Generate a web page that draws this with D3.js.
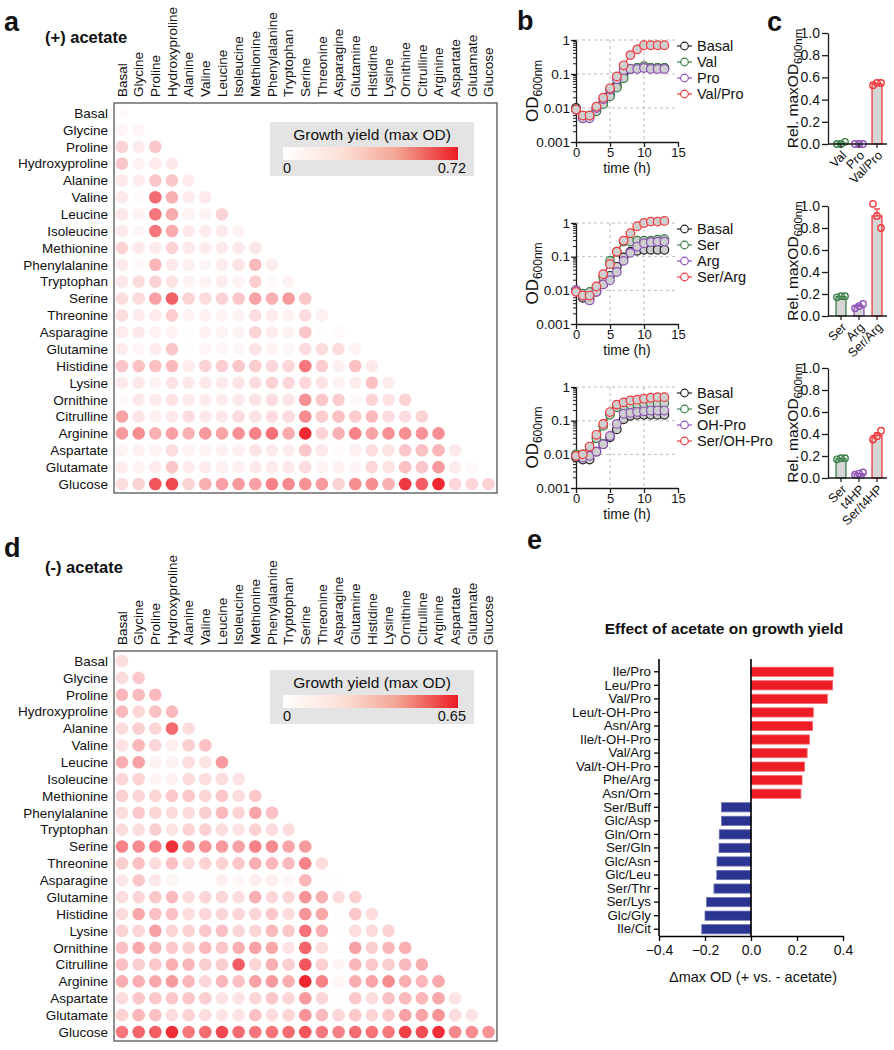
<!DOCTYPE html>
<html><head><meta charset="utf-8">
<script src="https://cdn.jsdelivr.net/npm/d3@7"></script>
<style>
body{margin:0;background:#fff}
svg{display:block}
text{font-family:"Liberation Sans",Arial,Helvetica,sans-serif;fill:#111}
</style>
</head><body>
<svg id="fig" width="894" height="1050"></svg>
<script>
// ---------------- DATA ----------------
const categories = ["Basal","Glycine","Proline","Hydroxyproline","Alanine","Valine","Leucine","Isoleucine","Methionine","Phenylalanine","Tryptophan","Serine","Threonine","Asparagine","Glutamine","Histidine","Lysine","Ornithine","Citrulline","Arginine","Aspartate","Glutamate","Glucose"];

// growth yield (max OD), lower triangle, (+) acetate
const plusAcetate = [
 [0.02],
 [0.03,0.03],
 [0.14,0.06,0.18],
 [0.18,0.04,0.06,0.07],
 [0.07,0.06,0.18,0.18,0.06],
 [0.07,0.02,0.47,0.25,0.06,0.07],
 [0.07,0.04,0.43,0.27,0.04,0.04,0.14],
 [0.07,0.03,0.43,0.27,0.07,0.06,0.07,0.04],
 [0.14,0.07,0.06,0.14,0.07,0.06,0.07,0.07,0.08],
 [0.07,0.02,0.23,0.07,0.05,0.03,0.06,0.09,0.22,0.06],
 [0.07,0.11,0.14,0.09,0.04,0.04,0.06,0.04,0.16,0.02,0.04],
 [0.11,0.11,0.30,0.50,0.14,0.11,0.14,0.18,0.29,0.25,0.32,0.18],
 [0.11,0.06,0.06,0.16,0.04,0.05,0.04,0.04,0.11,0.06,0.04,0.11,0.05],
 [0.06,0.07,0.04,0.04,0.01,0.05,0.04,0.04,0.14,0.06,0.04,0.18,0.01,0.02],
 [0.06,0.03,0.06,0.18,0.01,0.03,0.03,0.03,0.09,0.04,0.03,0.11,0.11,0.11,0.04],
 [0.18,0.20,0.20,0.22,0.06,0.14,0.16,0.18,0.16,0.13,0.13,0.43,0.16,0.05,0.20,0.07],
 [0.07,0.07,0.04,0.09,0.07,0.07,0.07,0.09,0.11,0.14,0.13,0.13,0.09,0.04,0.06,0.20,0.06],
 [0.02,0.07,0.06,0.09,0.06,0.06,0.06,0.07,0.09,0.11,0.09,0.35,0.18,0.16,0.02,0.14,0.09,0.14],
 [0.29,0.09,0.05,0.07,0.11,0.07,0.07,0.11,0.09,0.11,0.11,0.37,0.16,0.20,0.16,0.22,0.11,0.11,0.14],
 [0.32,0.36,0.25,0.30,0.25,0.32,0.29,0.35,0.40,0.45,0.27,0.68,0.14,0.25,0.40,0.29,0.35,0.36,0.35,0.36],
 [0.04,0.05,0.04,0.11,0.04,0.04,0.05,0.05,0.09,0.07,0.06,0.18,0.07,0.02,0.05,0.11,0.09,0.18,0.20,0.23,0.07],
 [0.06,0.04,0.06,0.18,0.06,0.06,0.05,0.05,0.07,0.06,0.07,0.11,0.04,0.05,0.03,0.13,0.09,0.20,0.18,0.32,0.06,0.02],
 [0.11,0.14,0.54,0.58,0.14,0.25,0.30,0.32,0.30,0.40,0.37,0.35,0.32,0.14,0.36,0.36,0.25,0.63,0.52,0.68,0.13,0.13,0.14]
];
const plusMax = 0.72;

// growth yield (max OD), lower triangle, (-) acetate
const minusAcetate = [
 [0.10],
 [0.10,0.16],
 [0.21,0.20,0.20],
 [0.20,0.12,0.18,0.20],
 [0.10,0.14,0.12,0.42,0.10],
 [0.08,0.21,0.12,0.05,0.14,0.18],
 [0.23,0.27,0.04,0.04,0.10,0.08,0.29],
 [0.12,0.13,0.03,0.04,0.10,0.10,0.10,0.08],
 [0.14,0.12,0.12,0.16,0.16,0.12,0.16,0.10,0.16],
 [0.10,0.16,0.12,0.10,0.10,0.14,0.20,0.13,0.26,0.18],
 [0.10,0.10,0.14,0.08,0.13,0.14,0.10,0.08,0.13,0.10,0.10],
 [0.36,0.33,0.36,0.59,0.33,0.31,0.29,0.27,0.36,0.33,0.26,0.29],
 [0.14,0.18,0.10,0.18,0.10,0.13,0.13,0.16,0.23,0.21,0.20,0.36,0.10],
 [0.07,0.16,0.07,0.03,0.01,0.01,0.05,0.03,0.05,0.05,0.03,0.21,0.01,0.01],
 [0.10,0.12,0.16,0.20,0.10,0.12,0.12,0.10,0.23,0.12,0.12,0.31,0.23,0.10,0.14],
 [0.10,0.25,0.18,0.18,0.10,0.12,0.12,0.12,0.12,0.16,0.10,0.31,0.25,0.01,0.16,0.10],
 [0.13,0.12,0.27,0.12,0.13,0.16,0.18,0.12,0.12,0.20,0.16,0.40,0.23,0.01,0.10,0.10,0.13],
 [0.18,0.25,0.21,0.16,0.14,0.21,0.16,0.23,0.27,0.25,0.08,0.44,0.10,0.01,0.27,0.14,0.21,0.23],
 [0.18,0.14,0.16,0.23,0.21,0.14,0.14,0.46,0.12,0.23,0.14,0.49,0.14,0.03,0.21,0.16,0.14,0.20,0.23],
 [0.23,0.23,0.25,0.29,0.21,0.12,0.21,0.18,0.27,0.29,0.23,0.62,0.36,0.03,0.23,0.26,0.33,0.23,0.21,0.25],
 [0.10,0.16,0.16,0.16,0.16,0.14,0.08,0.08,0.12,0.16,0.12,0.29,0.12,0.01,0.16,0.10,0.18,0.20,0.21,0.25,0.08],
 [0.13,0.21,0.18,0.10,0.13,0.10,0.08,0.08,0.18,0.10,0.12,0.31,0.20,0.12,0.16,0.12,0.16,0.27,0.26,0.31,0.10,0.08],
 [0.39,0.44,0.46,0.60,0.39,0.42,0.52,0.42,0.39,0.40,0.42,0.49,0.38,0.36,0.42,0.40,0.39,0.55,0.51,0.60,0.34,0.33,0.31]
];
const minusMax = 0.65;

// panel b: growth curves (OD600nm vs time)
const timeHours = [0,1,2,3,4,5,6,7,8,9,10,11,12,13];
const b1Basal  = [0.010,0.006,0.006,0.009,0.014,0.025,0.045,0.100,0.140,0.150,0.160,0.150,0.150,0.150];
const b1Val    = [0.009,0.005,0.006,0.008,0.013,0.022,0.040,0.075,0.140,0.150,0.170,0.150,0.150,0.150];
const b1Pro    = [0.009,0.005,0.005,0.010,0.018,0.035,0.070,0.130,0.140,0.140,0.150,0.140,0.140,0.140];
const b1ValPro = [0.009,0.006,0.006,0.011,0.020,0.038,0.085,0.180,0.360,0.530,0.700,0.700,0.700,0.700];
const b2Basal  = [0.010,0.006,0.006,0.009,0.015,0.027,0.050,0.095,0.140,0.150,0.160,0.160,0.160,0.160];
const b2Ser    = [0.010,0.008,0.009,0.012,0.025,0.075,0.140,0.280,0.280,0.300,0.300,0.300,0.320,0.330];
const b2Arg    = [0.010,0.007,0.005,0.009,0.015,0.020,0.035,0.075,0.130,0.200,0.250,0.270,0.280,0.280];
const b2SerArg = [0.009,0.007,0.007,0.013,0.030,0.060,0.140,0.300,0.500,0.800,1.000,1.100,1.100,1.150];
const b3Basal  = [0.008,0.007,0.007,0.012,0.020,0.032,0.055,0.110,0.140,0.150,0.150,0.150,0.150,0.150];
const b3Ser    = [0.010,0.010,0.013,0.030,0.070,0.150,0.250,0.280,0.300,0.310,0.320,0.330,0.330,0.330];
const b3OHPro  = [0.009,0.008,0.009,0.012,0.020,0.035,0.080,0.160,0.170,0.180,0.190,0.200,0.200,0.200];
const b3SerOHPro = [0.009,0.010,0.017,0.038,0.080,0.180,0.300,0.350,0.400,0.420,0.450,0.480,0.500,0.500];
const b1Names = ["Basal","Val","Pro","Val/Pro"];
const b2Names = ["Basal","Ser","Arg","Ser/Arg"];
const b3Names = ["Basal","Ser","OH-Pro","Ser/OH-Pro"];
const odTicks = [1,0.1,0.01,0.001];
const timeTicks = [0,5,10,15];

// panel c: relative max OD600nm (replicates)
const c1Labels = ["Val","Pro","Val/Pro"];
const c1Reps = [[0.00,0.00,0.02],[0.00,0.00,0.00],[0.53,0.55,0.55]];
const c2Labels = ["Ser","Arg","Ser/Arg"];
const c2Reps = [[0.17,0.18,0.18],[0.07,0.09,0.11],[1.02,0.91,0.80]];
const c3Labels = ["Ser","t4HP","Ser/t4HP"];
const c3Reps = [[0.17,0.18,0.18],[0.03,0.04,0.05],[0.35,0.38,0.43]];
const relTicks = [0,0.2,0.4,0.6,0.8,1.0];

// panel e: effect of acetate on growth yield
const eLabels = ["Ile/Pro","Leu/Pro","Val/Pro","Leu/t-OH-Pro","Asn/Arg","Ile/t-OH-Pro","Val/Arg","Val/t-OH-Pro","Phe/Arg","Asn/Orn","Ser/Buff","Glc/Asp","Gln/Orn","Ser/Gln","Glc/Asn","Glc/Leu","Ser/Thr","Ser/Lys","Glc/Gly","Ile/Cit"];
const eValues = [0.358,0.355,0.332,0.271,0.268,0.254,0.244,0.233,0.222,0.217,-0.128,-0.128,-0.138,-0.139,-0.148,-0.149,-0.161,-0.193,-0.200,-0.214];
const eTicks = [-0.4,-0.2,0.0,0.2,0.4];

// ---------------- DRAW ----------------
const svg = d3.select("#fig");
const defs = svg.append("defs");
const INK = "#1a1a1a";
const C = {black:"#222222", green:"#3a7f47", purple:"#8e52b8", red:"#f2383c"};

function panelLetter(t, x, y){
  svg.append("text").attr("x",x).attr("y",y).attr("font-size",27).attr("font-weight","bold").text(t);
}

// ---------- heatmaps ----------
function heatmap(data, maxV, dy, gid, heading, headingY){
  const g = svg.append("g");
  const x = d3.scalePoint().domain(categories).range([122, 488.5]);
  const y = d3.scalePoint().domain(categories).range([113+dy, 484+dy]);
  const color = d3.scaleLinear().domain([0, maxV]).range(["#ffffff","#ee1c25"]).clamp(true);

  g.append("text").attr("x",45).attr("y",headingY).attr("font-size",16.5).attr("font-weight","bold").text(heading);

  g.append("rect").attr("x",114).attr("y",103+dy).attr("width",383).attr("height",390)
    .attr("fill","none").attr("stroke","#555").attr("stroke-width",1.3);

  const cells = [];
  data.forEach((row,i)=>row.forEach((v,j)=>cells.push({r:categories[i], c:categories[j], v})));
  g.selectAll("circle.cell").data(cells).join("circle").attr("class","cell")
    .attr("cx",d=>x(d.c)).attr("cy",d=>y(d.r)).attr("r",6.3).attr("fill",d=>color(d.v));

  g.selectAll("text.rl").data(categories).join("text").attr("class","rl")
    .attr("x",108).attr("y",d=>y(d)).attr("dy","0.36em").attr("text-anchor","end")
    .attr("font-size",13.5).text(d=>d);
  g.selectAll("text.cl").data(categories).join("text").attr("class","cl")
    .attr("transform",d=>`translate(${x(d)+4.8},${97+dy}) rotate(-90)`)
    .attr("font-size",13.5).text(d=>d);

  // legend
  const lg = defs.append("linearGradient").attr("id",gid);
  [[0,"#ffffff"],[0.35,"#fcded4"],[0.65,"#f4a595"],[1,"#ec1c24"]].forEach(s=>
    lg.append("stop").attr("offset",s[0]).attr("stop-color",s[1]));
  g.append("rect").attr("x",270).attr("y",122+dy).attr("width",204).attr("height",54).attr("fill","#e4e4e4");
  g.append("text").attr("x",372).attr("y",139.5+dy).attr("text-anchor","middle").attr("font-size",15.5).text("Growth yield (max OD)");
  g.append("rect").attr("x",283).attr("y",147+dy).attr("width",175).attr("height",13).attr("fill",`url(#${gid})`);
  g.append("text").attr("x",283).attr("y",173+dy).attr("font-size",14.5).text("0");
  g.append("text").attr("x",466).attr("y",173+dy).attr("text-anchor","end").attr("font-size",14.5).text(maxV.toFixed(2));
}
panelLetter("a",4,31);
heatmap(plusAcetate, plusMax, 0, "gradA", "(+) acetate", 43);
panelLetter("d",4,557);
heatmap(minusAcetate, minusMax, 548, "gradD", "(-) acetate", 573);

// ---------- panel b ----------
function growthPlot(top, bottom, series, names){
  const g = svg.append("g");
  const x = d3.scaleLinear().domain([0,15]).range([576,678]);
  const y = d3.scaleLog().domain([0.001,1]).range([bottom, top]);
  // grid
  [1,0.1,0.01].forEach(v=>g.append("line").attr("x1",576).attr("x2",678).attr("y1",y(v)).attr("y2",y(v))
     .attr("stroke","#bdbdbd").attr("stroke-width",1).attr("stroke-dasharray","3,3"));
  [5,10].forEach(v=>g.append("line").attr("x1",x(v)).attr("x2",x(v)).attr("y1",top).attr("y2",bottom)
     .attr("stroke","#bdbdbd").attr("stroke-width",1).attr("stroke-dasharray","3,3"));
  // y axis
  const ya = g.append("g").attr("transform","translate(576,0)")
    .call(d3.axisLeft(y).tickValues(odTicks).tickFormat(d=>String(d)).tickSize(5).tickSizeOuter(0));
  ya.select(".domain").attr("stroke",INK).attr("stroke-width",1.3);
  ya.selectAll(".tick line").attr("stroke",INK).attr("stroke-width",1.3);
  ya.selectAll("text").attr("font-size",13.5).attr("font-family","Liberation Sans, Arial, sans-serif").attr("fill",INK).attr("x",-6);
  const minor = [];
  [0.001,0.01,0.1].forEach(d=>[2,3,4,5,6,7,8,9].forEach(k=>minor.push(d*k)));
  g.selectAll("line.mn").data(minor).join("line").attr("x1",573).attr("x2",576)
    .attr("y1",d=>y(d)).attr("y2",d=>y(d)).attr("stroke",INK).attr("stroke-width",1);
  // x axis
  const xa = g.append("g").attr("transform",`translate(0,${bottom})`)
    .call(d3.axisBottom(x).tickValues(timeTicks).tickSize(5).tickSizeOuter(0));
  xa.select(".domain").attr("stroke",INK).attr("stroke-width",1.3);
  xa.selectAll(".tick line").attr("stroke",INK).attr("stroke-width",1.3);
  xa.selectAll("text").attr("font-size",13).attr("font-family","Liberation Sans, Arial, sans-serif").attr("fill",INK).attr("y",6);
  g.append("text").attr("x",627).attr("y",bottom+31).attr("text-anchor","middle").attr("font-size",14).text("time (h)");
  // y title
  const yt = g.append("text").attr("transform",`translate(538,${(top+bottom)/2}) rotate(-90)`).attr("text-anchor","middle");
  yt.append("tspan").attr("font-size",17).text("OD");
  yt.append("tspan").attr("font-size",12).attr("dy",4).text("600nm");
  // series
  const cols = [C.black, C.green, C.purple, C.red];
  const line = d3.line().x((d,i)=>x(timeHours[i])).y(d=>y(d));
  series.forEach((s,k)=>{
    g.append("path").attr("d",line(s)).attr("fill","none").attr("stroke",cols[k]).attr("stroke-width",1.2);
  });
  series.forEach((s,k)=>{
    g.selectAll(null).data(s).join("circle").attr("cx",(d,i)=>x(timeHours[i])).attr("cy",d=>y(d))
      .attr("r",4.3).attr("fill","#cfcfcf").attr("stroke",cols[k]).attr("stroke-width",1.2);
  });
  // legend
  names.forEach((n,k)=>{
    const ly = top + 6 + 16*k;
    g.append("line").attr("x1",677).attr("x2",692).attr("y1",ly).attr("y2",ly).attr("stroke",cols[k]).attr("stroke-width",1.2);
    g.append("circle").attr("cx",684.5).attr("cy",ly).attr("r",3.8).attr("fill","#fff").attr("stroke",cols[k]).attr("stroke-width",1.2);
    g.append("text").attr("x",697).attr("y",ly).attr("dy","0.36em").attr("font-size",14.5).text(n);
  });
}
panelLetter("b",517,30);
growthPlot(40,142,[b1Basal,b1Val,b1Pro,b1ValPro],b1Names);
growthPlot(223,324,[b2Basal,b2Ser,b2Arg,b2SerArg],b2Names);
growthPlot(387,488,[b3Basal,b3Ser,b3OHPro,b3SerOHPro],b3Names);

// ---------- panel c ----------
function relBars(top, bottom, labels, reps){
  const g = svg.append("g");
  const x = d3.scaleBand().domain(labels).range([832,886]).paddingInner(0.45).paddingOuter(0.225);
  const y = d3.scaleLinear().domain([0,1]).range([bottom, top]);
  const cols = [C.green, C.purple, C.red];
  reps.forEach((r,k)=>{
    const m = d3.mean(r);
    const sem = d3.deviation(r)/Math.sqrt(r.length);
    const xc = x(labels[k]) + x.bandwidth()/2;
    g.append("rect").attr("x",x(labels[k])).attr("y",y(m)).attr("width",x.bandwidth()).attr("height",y(0)-y(m))
      .attr("fill","#d6d6d6").attr("stroke",cols[k]).attr("stroke-width",1.3);
    if (sem > 0.01){
      g.append("line").attr("x1",xc).attr("x2",xc).attr("y1",y(m)).attr("y2",y(m+sem)).attr("stroke",cols[k]).attr("stroke-width",1.3);
      g.append("line").attr("x1",xc-3).attr("x2",xc+3).attr("y1",y(m+sem)).attr("y2",y(m+sem)).attr("stroke",cols[k]).attr("stroke-width",1.3);
    }
    r.forEach((v,i)=>g.append("circle").attr("cx",xc+(i-1)*4).attr("cy",y(v)).attr("r",3.2)
      .attr("fill","none").attr("stroke",cols[k]).attr("stroke-width",1.4));
  });
  const ya = g.append("g").attr("transform","translate(828,0)")
    .call(d3.axisLeft(y).tickValues(relTicks).tickFormat(d3.format(".1f")).tickSize(6).tickSizeOuter(0));
  ya.select(".domain").attr("stroke",INK).attr("stroke-width",1.3);
  ya.selectAll(".tick line").attr("stroke",INK).attr("stroke-width",1.3);
  ya.selectAll("text").attr("font-size",14).attr("font-family","Liberation Sans, Arial, sans-serif").attr("fill",INK).attr("x",-8);
  g.append("line").attr("x1",828).attr("x2",887).attr("y1",bottom).attr("y2",bottom).attr("stroke",INK).attr("stroke-width",1.3);
  labels.forEach(l=>{
    const xc = x(l)+x.bandwidth()/2;
    g.append("line").attr("x1",xc).attr("x2",xc).attr("y1",bottom).attr("y2",bottom+4).attr("stroke",INK).attr("stroke-width",1.2);
    g.append("text").attr("transform",`translate(${xc+3},${bottom+9}) rotate(-45)`).attr("text-anchor","end")
      .attr("dy","0.35em").attr("font-size",12.5).text(l);
  });
  const yt = g.append("text").attr("transform",`translate(798,${(top+bottom)/2}) rotate(-90)`).attr("text-anchor","middle");
  yt.append("tspan").attr("font-size",15.5).text("Rel. maxOD");
  yt.append("tspan").attr("font-size",11.5).attr("dy",4).text("600nm");
}
panelLetter("c",767,31);
relBars(33,144,c1Labels,c1Reps);
relBars(206,316,c2Labels,c2Reps);
relBars(368,478,c3Labels,c3Reps);

// ---------- panel e ----------
(function(){
  const g = svg.append("g");
  const x = d3.scaleLinear().domain([-0.4,0.4]).range([659,843]);
  const y = d3.scaleBand().domain(eLabels).range([665,936]).paddingInner(0.32).paddingOuter(0.16);
  g.append("text").attr("x",724).attr("y",634).attr("text-anchor","middle").attr("font-size",15.5).attr("font-weight","bold")
    .text("Effect of acetate on growth yield");
  g.selectAll("rect.bar").data(eLabels).join("rect").attr("class","bar")
    .attr("x",(d,i)=>x(Math.min(0,eValues[i]))).attr("y",d=>y(d))
    .attr("width",(d,i)=>Math.abs(x(eValues[i])-x(0))).attr("height",y.bandwidth())
    .attr("fill",(d,i)=>eValues[i]>0?"#ee1c25":"#2b3490")
    .attr("stroke",(d,i)=>eValues[i]>0?"#f4696e":"#6a71b0").attr("stroke-width",0.8);
  // zero line
  g.append("line").attr("x1",x(0)).attr("x2",x(0)).attr("y1",659).attr("y2",936).attr("stroke","#000").attr("stroke-width",1.6);
  // y axis
  const ya = g.append("g").attr("transform","translate(659,0)").call(d3.axisLeft(y).tickSize(5).tickSizeOuter(0));
  ya.select(".domain").attr("d","M0,659V936").attr("stroke","#000").attr("stroke-width",1.6);
  ya.selectAll(".tick line").attr("stroke","#000").attr("stroke-width",1.3);
  ya.selectAll("text").attr("font-size",13.3).attr("font-family","Liberation Sans, Arial, sans-serif").attr("fill",INK).attr("x",-8);
  // x axis
  const xa = g.append("g").attr("transform","translate(0,936)")
    .call(d3.axisBottom(x).tickValues(eTicks).tickFormat(d3.format(".1f")).tickSize(5).tickSizeOuter(0));
  xa.select(".domain").attr("stroke","#000").attr("stroke-width",1.6);
  xa.selectAll(".tick line").attr("stroke","#000").attr("stroke-width",1.3);
  xa.selectAll("text").attr("font-size",14).attr("font-family","Liberation Sans, Arial, sans-serif").attr("fill",INK).attr("y",9);
  g.append("text").attr("x",753).attr("y",982).attr("text-anchor","middle").attr("font-size",14.5).text("Δmax OD (+ vs. - acetate)");
})();
panelLetter("e",527,549);
</script>
</body></html>
